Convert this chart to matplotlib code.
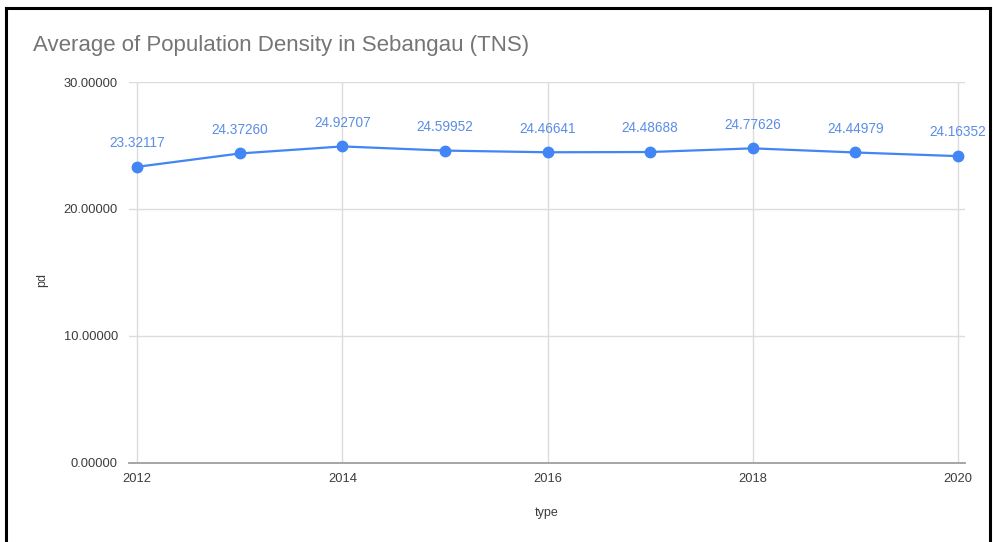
import matplotlib
matplotlib.use("Agg")
import matplotlib.pyplot as plt
from matplotlib.lines import Line2D

# yearly average population density, Sebangau (TNS)
years = [2012, 2013, 2014, 2015, 2016, 2017, 2018, 2019, 2020]
density = [23.32117, 24.37260, 24.92707, 24.59952, 24.46641,
           24.48688, 24.77626, 24.44979, 24.16352]
x_ticks = [2012, 2014, 2016, 2018, 2020]
y_ticks = [0, 10, 20, 30]

BLUE = "#4285f4"
LABEL_BLUE = "#5b8de6"
GRID = "#dcdcdc"
TEXT = "#3c3c3c"

plt.rcParams["font.family"] = ["Liberation Sans", "DejaVu Sans"]

fig = plt.figure(figsize=(9.93, 5.42), dpi=100)
ax = fig.add_axes([0.1299, 0.1458, 0.8419, 0.7029])

ax.plot(years, density, color=BLUE, lw=1.6, marker="o", markersize=7.5,
        zorder=3, clip_on=False)
for x, y in zip(years, density):
    ax.annotate(f"{y:.5f}", (x, y), xytext=(0, 12), textcoords="offset points",
                ha="center", va="bottom", fontsize=9.8, color=LABEL_BLUE)

ax.set_xlim(2011.92, 2020.07)
ax.set_ylim(0, 30)
ax.set_xticks(x_ticks)
ax.set_yticks(y_ticks)
ax.set_yticklabels([f"{v:.5f}" for v in y_ticks])
ax.tick_params(axis="both", length=0, labelsize=9.3, labelcolor=TEXT)
ax.tick_params(axis="y", pad=8)
ax.tick_params(axis="x", pad=7)
ax.grid(True, color=GRID, lw=1)
ax.set_axisbelow(True)
for side in ("top", "right", "left"):
    ax.spines[side].set_visible(False)
ax.spines["bottom"].set_color("#9e9e9e")
ax.spines["bottom"].set_linewidth(1.3)

ax.set_xlabel("type", fontsize=9, color=TEXT)
ax.xaxis.set_label_coords(0.5, -0.115)
ax.set_ylabel("pd", fontsize=9, color=TEXT)
ax.yaxis.set_label_coords(-0.097, 0.48)

fig.text(33 / 993, 1 - 46 / 542, "Average of Population Density in Sebangau (TNS)",
         fontsize=16, color="#757575", va="center", ha="left")

# black frame around the chart card (open at the bottom)
W, H = 993, 542
frame = dict(color="black", lw=2.2, solid_capstyle="projecting")
fig.add_artist(Line2D([6 / W, 6 / W], [0, 1 - 8 / H], **frame))
fig.add_artist(Line2D([6 / W, 990 / W], [1 - 8 / H, 1 - 8 / H], **frame))
fig.add_artist(Line2D([990 / W, 990 / W], [0, 1 - 8 / H], **frame))

fig.savefig("out.png", dpi=100)
